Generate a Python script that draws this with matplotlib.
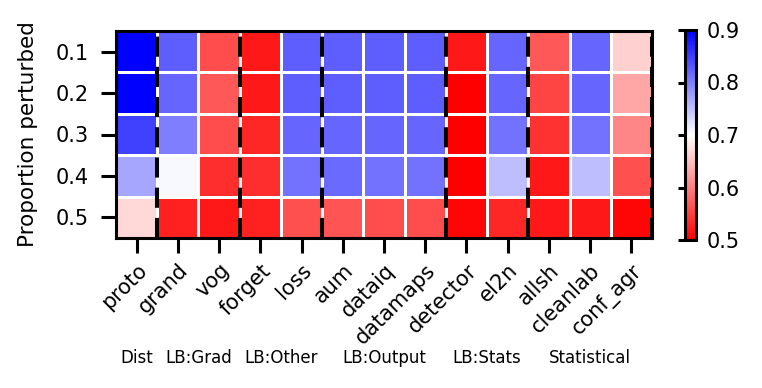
import numpy as np
import matplotlib
matplotlib.use("Agg")
import matplotlib.pyplot as plt

methods = ["proto", "grand", "vog", "forget", "loss", "aum", "dataiq", "datamaps",
           "detector", "el2n", "allsh", "cleanlab", "conf_agr"]
proportions = ["0.1", "0.2", "0.3", "0.4", "0.5"]
groups = ["Dist", "LB:Grad", "LB:Other", "LB:Output", "LB:Stats", "Statistical"]
group_bounds = [0, 1, 3, 5, 8, 10, 13]

# rows: proportion perturbed, columns: methods
values = np.array([
    [0.92, 0.826, 0.56, 0.52, 0.826, 0.826, 0.826, 0.826, 0.52, 0.82, 0.57, 0.82, 0.664],
    [0.91, 0.82, 0.57, 0.52, 0.826, 0.826, 0.826, 0.826, 0.50, 0.82, 0.554, 0.82, 0.63],
    [0.85, 0.80, 0.56, 0.53, 0.82, 0.82, 0.82, 0.82, 0.50, 0.81, 0.54, 0.81, 0.606],
    [0.77, 0.706, 0.536, 0.536, 0.81, 0.816, 0.81, 0.81, 0.50, 0.75, 0.52, 0.75, 0.564],
    [0.67, 0.526, 0.52, 0.526, 0.564, 0.566, 0.56, 0.56, 0.505, 0.53, 0.52, 0.52, 0.505],
])

W, H = 762, 388
fig = plt.figure(figsize=(W / 100, H / 100), dpi=100)
ax = fig.add_axes([116 / W, 1 - 238 / H, (652 - 116) / W, (238 - 31) / H])
cax = fig.add_axes([685 / W, 1 - 240 / H, 11 / W, (240 - 30) / H])

mesh = ax.pcolormesh(values, cmap="bwr_r", vmin=0.5, vmax=0.9,
                     edgecolors="white", linewidth=1.0)
ax.set_xlim(0, len(methods))
ax.set_ylim(len(proportions), 0)

for b in group_bounds[1:]:
    ax.axvline(b, color="black", lw=2.9, ls=(0, (5, 2.5)))

ax.set_xticks(np.arange(len(methods)) + 0.5)
ax.set_xticklabels(methods, rotation=45, ha="right", rotation_mode="anchor", fontsize=15)
ax.set_yticks(np.arange(len(proportions)) + 0.5)
ax.set_yticklabels(proportions, fontsize=15)
ax.tick_params(axis="x", length=11, width=2.2, pad=5)
ax.tick_params(axis="y", length=11, width=2.2, pad=8.5)
for s in ax.spines.values():
    s.set_linewidth(2.2)
ax.set_ylabel("Proportion perturbed", fontsize=15.5)
ax.yaxis.set_label_coords(-0.1455, 0.5)

cb = fig.colorbar(mesh, cax=cax, ticks=[0.5, 0.6, 0.7, 0.8, 0.9])
cb.outline.set_linewidth(2.2)
cax.tick_params(left=True, right=False, labelleft=False, labelright=True,
                length=5, width=2.2, labelsize=15, pad=3)

# group labels under the x tick labels
for g, a, b in zip(groups, group_bounds[:-1], group_bounds[1:]):
    xc = (a + b) / 2
    xd = ax.transData.transform((xc, 0))[0]
    xf = fig.transFigure.inverted().transform((xd, 0))[0]
    fig.text(xf, 1 - 358 / H, g, ha="center", va="center", fontsize=12)

fig.savefig("out.png", dpi=100)
